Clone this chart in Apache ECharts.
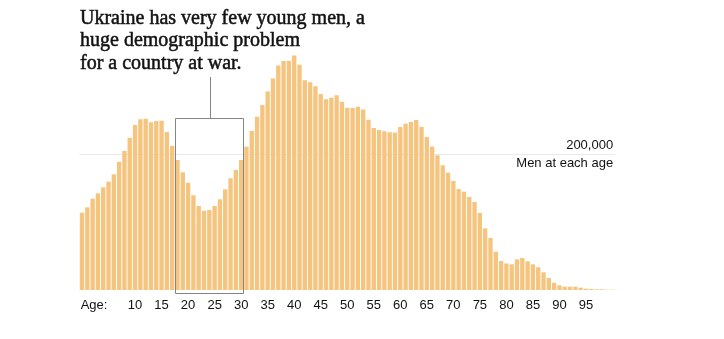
<!DOCTYPE html>
<html>
<head>
<meta charset="utf-8">
<script src="https://cdn.jsdelivr.net/npm/echarts@6/dist/echarts.min.js"></script>
<style>
  html, body { margin: 0; padding: 0; background: #fff; }
  #chart { width: 724px; height: 339px; }
</style>
</head>
<body>
<div id="chart"></div>
<script>
// Categories: single years of age 0..100
const ages = [];
for (let a = 0; a <= 100; a++) ages.push(String(a));

// Men at each age
const men = [
  113700, 121600, 134300, 142200, 151000, 159300, 170100, 188700, 204400, 224000,
  242600, 251000, 251900, 246600, 248500, 249000, 232400, 211800, 191200, 173100,
  157800, 139300, 123500, 116600, 117600, 123500, 133400, 148100, 164300, 176500,
  191200, 210700, 234300, 254900, 272100, 291900, 311000, 330200, 336800, 336800,
  344900, 331200, 308400, 305400, 299700, 288200, 280400, 282600, 286300, 276900,
  268000, 267600, 269400, 265600, 250400, 238200, 235300, 233400, 231900, 231600,
  239700, 244400, 247100, 250000, 240200, 225000, 211000, 198200, 183400, 172400,
  160300, 148500, 144600, 136800, 129400, 113200, 90700, 76500, 56300, 42600,
  39000, 37800, 45100, 47100, 42200, 37800, 33400, 26000, 17600, 10700,
  6900, 4900, 4900, 4900, 3400, 1900, 1500, 1000, 1000, 500,
  500
];

// Tick labels shown under the axis
const tickAges = ['0', '10', '15', '20', '25', '30', '35', '40', '45', '50', '55', '60', '65', '70', '75', '80', '85', '90', '95'];
const firstTickLabel = 'Age:';
const gridValue = 200000;
const gridLabel = '200,000';
const gridSubLabel = 'Men at each age';

const titleText = 'Ukraine has very few young men, a\nhuge demographic problem\nfor a country at war.';

// Highlight box (ages and value extent)
const boxStartAge = '18';
const boxEndAge = '30';
const boxTopValue = 253000;
const leaderTopValue = 313000;

const chart = echarts.init(document.getElementById('chart'), null, { renderer: 'canvas' });

const sansFont = '"Liberation Sans", Arial, sans-serif';

chart.setOption({
  animation: false,
  backgroundColor: '#ffffff',
  title: {
    text: titleText,
    left: 80,
    top: 7,
    padding: 0,
    textStyle: {
      fontFamily: '"Liberation Serif", "Times New Roman", serif',
      fontSize: 20,
      fontWeight: 'normal',
      lineHeight: 22.5,
      color: '#121212',
      textBorderColor: '#121212',
      textBorderWidth: 0.5
    }
  },
  grid: {
    left: 79.35,
    right: 108.85,
    top: 52,
    bottom: 49,
    containLabel: false
  },
  xAxis: {
    type: 'category',
    data: ages,
    axisLine: { show: false },
    axisTick: { show: false },
    splitLine: { show: false },
    axisLabel: {
      interval: function (i, v) { return tickAges.indexOf(v) >= 0; },
      formatter: function (v) { return v === '0' ? '{age|' + firstTickLabel + '}' : v; },
      margin: 9,
      fontFamily: sansFont,
      fontSize: 13,
      color: '#121212',
      rich: {
        age: { padding: [0, 0, 0, 24], fontFamily: sansFont, fontSize: 13, color: '#121212' }
      }
    }
  },
  yAxis: {
    type: 'value',
    position: 'right',
    min: 0,
    max: 350000,
    interval: gridValue,
    axisLine: { show: false },
    axisTick: { show: false },
    splitLine: {
      show: true,
      lineStyle: { color: ['rgba(0,0,0,0)', '#e9e9e9', 'rgba(0,0,0,0)'], width: 1 }
    },
    axisLabel: {
      inside: true,
      margin: 2,
      formatter: function (v) {
        return v === gridValue ? '{a|' + gridLabel + '}\n{b|' + gridSubLabel + '}' : '';
      },
      rich: {
        a: { fontFamily: sansFont, fontSize: 13, color: '#121212', lineHeight: 18, align: 'right' },
        b: { fontFamily: sansFont, fontSize: 13, color: '#121212', lineHeight: 18, align: 'right' }
      }
    }
  },
  series: [{
    type: 'bar',
    data: men,
    barCategoryGap: '18%',
    itemStyle: { color: '#f5c47e' },
    emphasis: { disabled: true },
    z: 2
  }]
});

// Annotation box + leader line positioned through the chart's own scales
function px(axis, v) {
  const opt = axis === 'x' ? { xAxisIndex: 0 } : { yAxisIndex: 0 };
  return chart.convertToPixel(opt, v);
}
const half = (px('x', '1') - px('x', '0')) / 2;
const bx0 = Math.round(px('x', boxStartAge) - half) + 0.5;
const bx1 = Math.round(px('x', boxEndAge) + half) - 0.5;
const by0 = Math.round(px('y', boxTopValue)) + 0.5;
const by1 = Math.round(px('y', 0)) + 3.5;
const ly = Math.round(px('y', leaderTopValue));
const lx = Math.round((bx0 + bx1) / 2) + 0.5;

chart.setOption({
  graphic: [
    {
      type: 'rect',
      shape: { x: bx0, y: by0, width: bx1 - bx0, height: by1 - by0 },
      style: { fill: 'none', stroke: '#858585', lineWidth: 1 },
      z: 100
    },
    {
      type: 'line',
      shape: { x1: lx, y1: ly, x2: lx, y2: by0 },
      style: { stroke: '#858585', lineWidth: 1 },
      z: 100
    }
  ]
});
</script>
</body>
</html>
